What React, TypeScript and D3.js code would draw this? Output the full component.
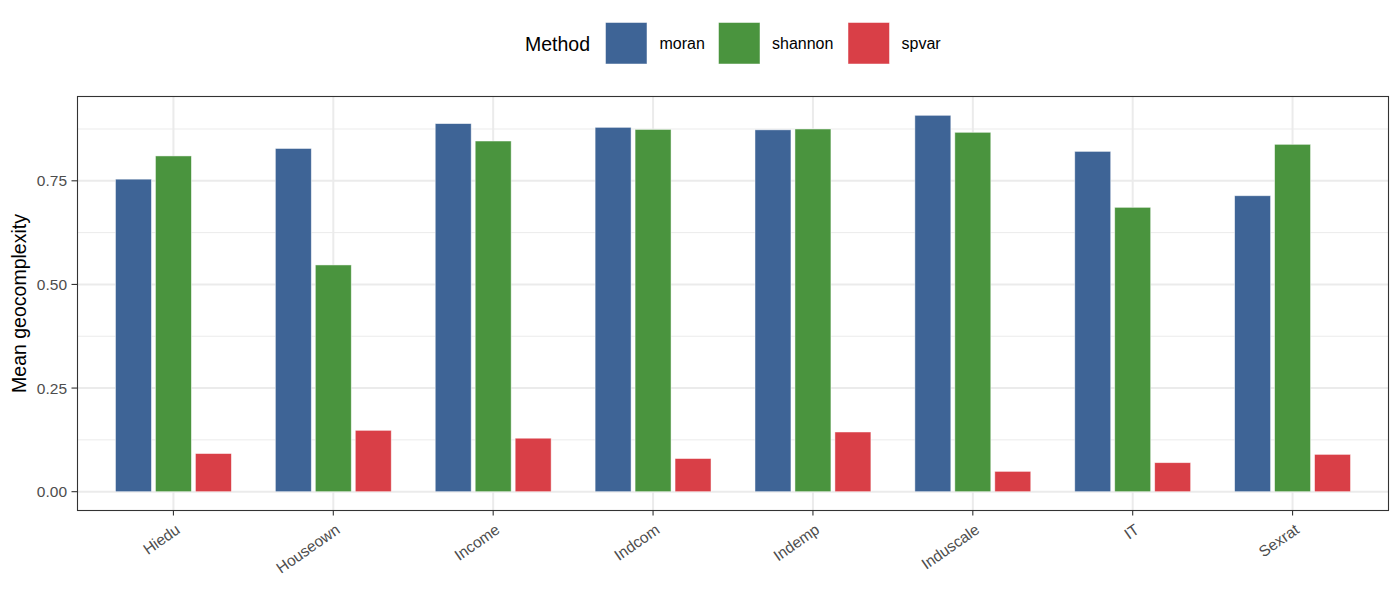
import React from "react";
import * as d3 from "d3";

const categories = ["Hiedu", "Houseown", "Income", "Indcom", "Indemp", "Induscale", "IT", "Sexrat"];
const methods = ["moran", "shannon", "spvar"];
const moran = [0.754, 0.828, 0.888, 0.879, 0.873, 0.908, 0.821, 0.714];
const shannon = [0.810, 0.547, 0.846, 0.874, 0.875, 0.867, 0.686, 0.838];
const spvar = [0.092, 0.148, 0.129, 0.080, 0.144, 0.049, 0.070, 0.090];
const yTicks = [0, 0.25, 0.5, 0.75];
const yMinor = [0.125, 0.375, 0.625, 0.875];
const colors = ["#3E6496", "#4A943E", "#D93F47"];

const series = [moran, shannon, spvar];
const FONT = "'Liberation Sans', Arial, Helvetica, sans-serif";

export default function App() {
  const W = 1400, H = 589;
  const left = 77.5, right = 1388.5, top = 96.5, bottom = 510.5;
  const ymax = d3.max(series.flat()) as number;
  const y = d3.scaleLinear().domain([-ymax * 0.05, ymax * 1.05]).range([bottom, top]);
  const x = d3.scaleBand<string>().domain(categories).range([left, right]).paddingInner(0.25).paddingOuter(0.225);
  const xm = d3.scaleBand<string>().domain(methods).range([0, x.bandwidth()]).padding(0);
  const bw = xm.bandwidth();

  return (
    <svg width={W} height={H} style={{ position: "absolute", left: 0, top: 0, background: "#fff" }} fontFamily={FONT}>
      <rect x={0} y={0} width={W} height={H} fill="#fff" />
      {/* minor grid */}
      {yMinor.map((t) => (
        <line key={"mn" + t} x1={left} x2={right} y1={y(t)} y2={y(t)} stroke="#EBEBEB" strokeWidth={1} />
      ))}
      {/* major grid */}
      {yTicks.map((t) => (
        <line key={"mj" + t} x1={left} x2={right} y1={y(t)} y2={y(t)} stroke="#EBEBEB" strokeWidth={2} />
      ))}
      {categories.map((c) => {
        const cx = (x(c) as number) + x.bandwidth() / 2;
        return <line key={"vg" + c} x1={cx} x2={cx} y1={top} y2={bottom} stroke="#EBEBEB" strokeWidth={2} />;
      })}
      {/* bars */}
      {categories.map((c, i) =>
        methods.map((m, j) => {
          const v = series[j][i];
          const bx = (x(c) as number) + (xm(m) as number);
          return (
            <rect
              key={c + m}
              x={bx + 2}
              y={y(v)}
              width={bw - 4}
              height={y(0) - y(v)}
              fill={colors[j]}
              stroke="#ffffff"
              strokeOpacity={0.6}
              strokeWidth={0.8}
            />
          );
        })
      )}
      {/* panel border */}
      <rect x={left} y={top} width={right - left} height={bottom - top} fill="none" stroke="#333333" strokeWidth={1.1} />
      {/* y axis */}
      {yTicks.map((t) => (
        <g key={"yt" + t}>
          <line x1={left - 6} x2={left} y1={y(t)} y2={y(t)} stroke="#333333" strokeWidth={1.1} />
          <text x={left - 10.5} y={y(t)} dy="0.36em" textAnchor="end" fontSize={15.5} fill="#4D4D4D">
            {d3.format(".2f")(t)}
          </text>
        </g>
      ))}
      <text
        transform={`translate(${26},${(top + bottom) / 2}) rotate(-90)`}
        textAnchor="middle"
        fontSize={19.5}
        fill="#000"
      >
        Mean geocomplexity
      </text>
      {/* x axis */}
      {categories.map((c) => {
        const cx = (x(c) as number) + x.bandwidth() / 2;
        return (
          <g key={"xt" + c}>
            <line x1={cx} x2={cx} y1={bottom} y2={bottom + 5} stroke="#333333" strokeWidth={1.1} />
            <text
              transform={`translate(${cx + 1},${bottom + 12}) rotate(-35)`}
              textAnchor="end"
              dy="0.75em"
              fontSize={15.5}
              fill="#4D4D4D"
            >
              {c}
            </text>
          </g>
        );
      })}
      {/* legend */}
      <text x={525} y={50.5} fontSize={19.5} fill="#000">Method</text>
      {methods.map((m, j) => {
        const kx = [605.5, 718.5, 848][j];
        const lx = [659.5, 772, 901.5][j];
        return (
          <g key={"lg" + m}>
            <rect x={kx} y={22.5} width={41.5} height={41.5} fill={colors[j]} stroke="#ffffff" strokeOpacity={0.6} strokeWidth={0.8} />
            <text x={lx} y={49.3} fontSize={16} fill="#000">{m}</text>
          </g>
        );
      })}
    </svg>
  );
}
